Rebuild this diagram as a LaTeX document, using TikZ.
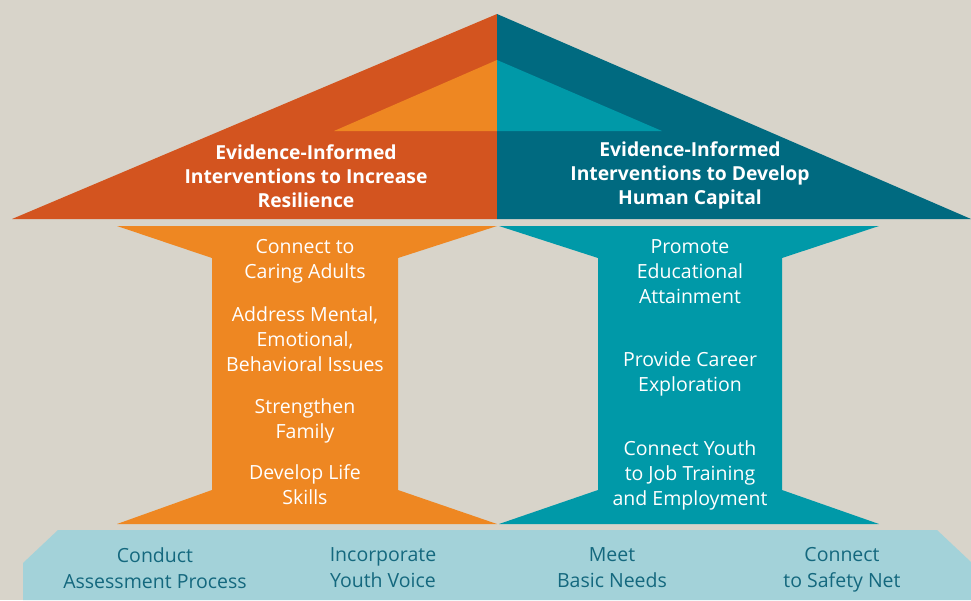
\documentclass[tikz,border=0pt]{standalone}
\usepackage{fontspec}
\setmainfont{Open Sans}
\usepackage{tikz}

\definecolor{BgGrey}{HTML}{D8D4CA}
\definecolor{RoofOrange}{HTML}{D3541F}
\definecolor{PillarOrange}{HTML}{EE8722}
\definecolor{RoofTeal}{HTML}{006A80}
\definecolor{PillarTeal}{HTML}{0099A8}
\definecolor{BaseBlue}{HTML}{A3D2D9}
\definecolor{BaseText}{HTML}{14687E}

\tikzset{
  RoofText/.style={text=white, align=center, font=\bfseries\fontsize{19.3}{24}\selectfont},
  PillarText/.style={text=white, align=center, font=\fontsize{19.5}{25}\selectfont},
  BaseLabel/.style={text=BaseText, align=center, font=\fontsize{19.5}{26}\selectfont}
}

\begin{document}
\begin{tikzpicture}[x=1pt,y=-1pt]
%background, roof, pillars, base
    \fill[BgGrey] (0,0) rectangle (971,600);
    \useasboundingbox (0,0) rectangle (971,600);

    \fill[RoofOrange] (12,219) -- (497,14) -- (497,219) -- cycle;
    \fill[RoofTeal] (497,14) -- (971,219) -- (497,219) -- cycle;
    \fill[PillarOrange] (334,131) -- (497,60) -- (497,131) -- cycle;
    \fill[PillarTeal] (497,60) -- (662,131) -- (497,131) -- cycle;

    \fill[PillarOrange] (117,226) -- (497,226) -- (398,258) -- (398,490) -- (497,524)
        -- (117,524) -- (212,490) -- (212,258) -- cycle;
    \fill[PillarTeal] (499,226) -- (879,226) -- (782,258) -- (782,490) -- (879,524)
        -- (499,524) -- (598,490) -- (598,258) -- cycle;

    \fill[BaseBlue] (58,530) -- (937,530) -- (971,562) -- (971,600) -- (23,600)
        -- (23,563) -- cycle;

    \node[RoofText] (Resilience) at (306,176) {Evidence-Informed\\Interventions to Increase\\Resilience};
    \node[RoofText] (Capital) at (690,175) {Evidence-Informed\\Interventions to Develop\\Human Capital};

    \node[PillarText] (Adults) at (305,261) {Connect to\\Caring Adults};
    \node[PillarText] (Mental) at (305,339) {Address Mental,\\Emotional,\\Behavioral Issues};
    \node[PillarText] (Family) at (305,421) {Strengthen\\Family};
    \node[PillarText] (LifeSkills) at (305,485) {Develop Life\\Skills};

    \node[PillarText] (Education) at (690,272) {Promote\\Educational\\Attainment};
    \node[PillarText] (Career) at (690,374) {Provide Career\\Exploration};
    \node[PillarText] (JobTraining) at (690,475) {Connect Youth\\to Job Training\\and Employment};

    \node[BaseLabel] (Assessment) at (155,568) {Conduct\\Assessment Process};
    \node[BaseLabel] (YouthVoice) at (383,568) {Incorporate\\Youth Voice};
    \node[BaseLabel] (BasicNeeds) at (612,568) {Meet\\Basic Needs};
    \node[BaseLabel] (SafetyNet) at (842,570) {Connect\\to Safety Net};

\end{tikzpicture}
\end{document}
